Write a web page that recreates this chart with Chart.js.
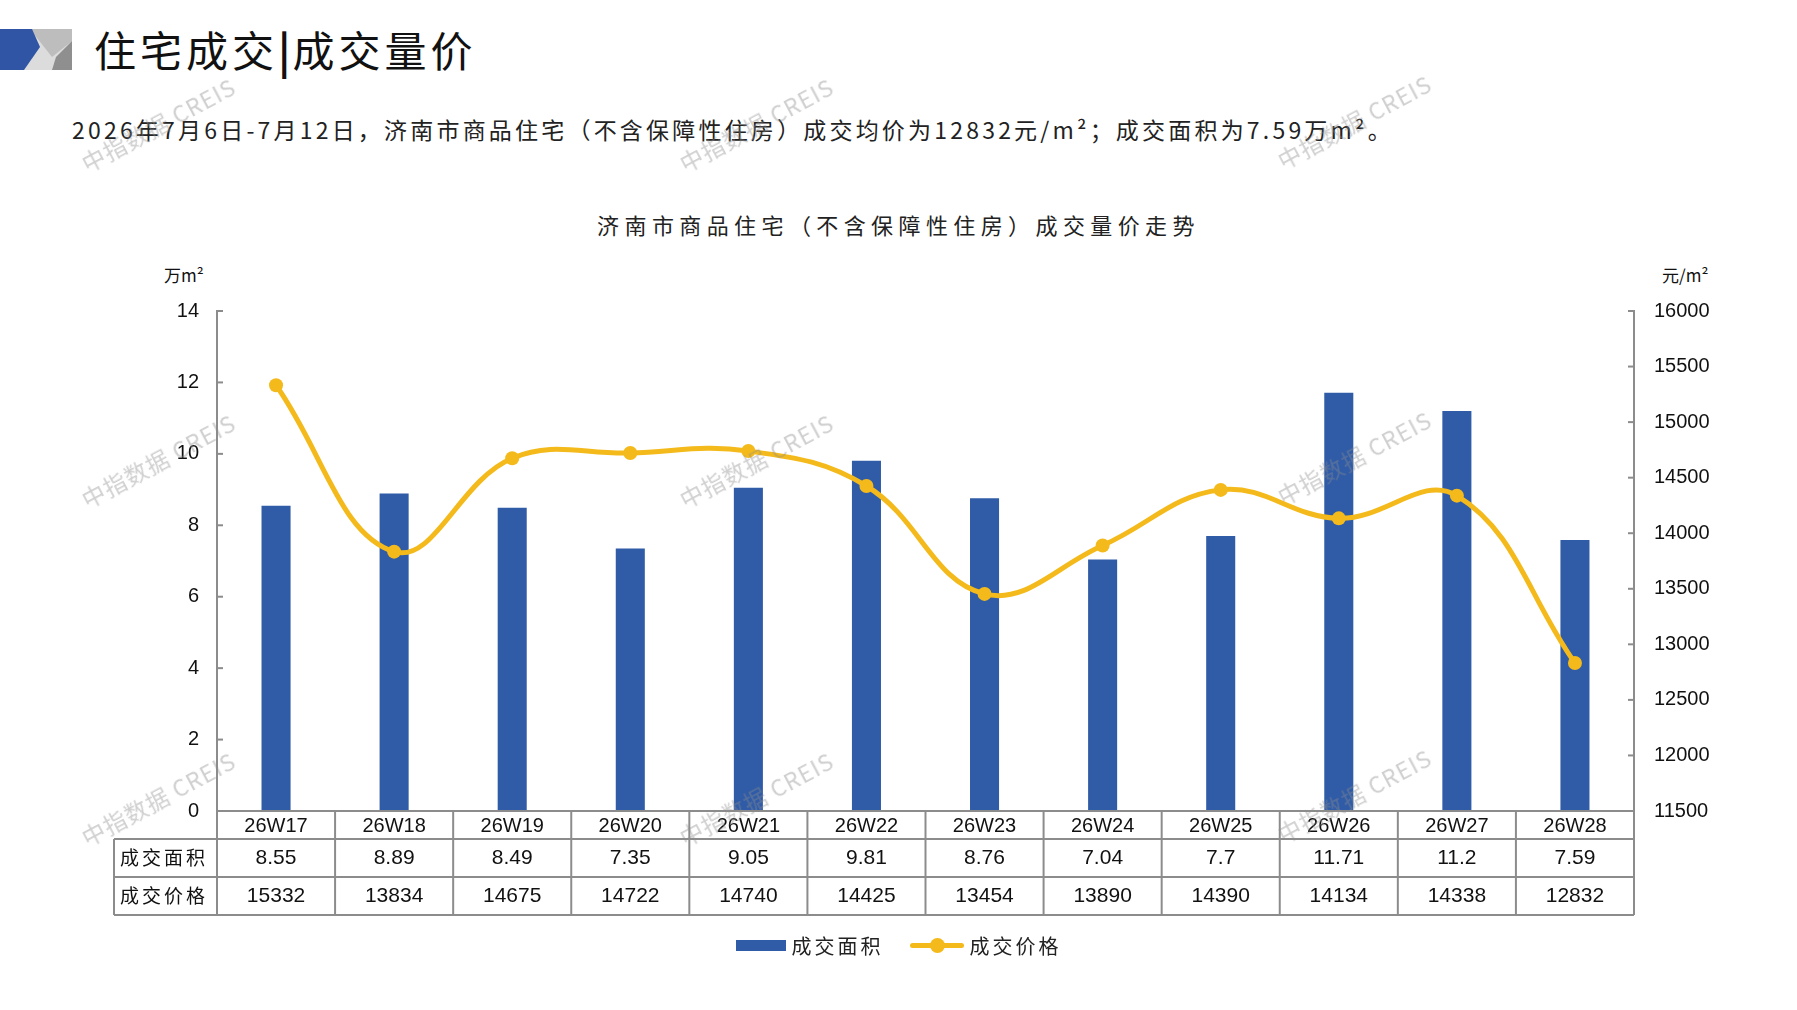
<!DOCTYPE html>
<html lang="zh-CN">
<head>
<meta charset="UTF-8">
<title>济南市商品住宅成交量价走势</title>
<script src="https://cdn.jsdelivr.net/npm/chart.js"></script>
<style>
  body { margin: 0; width: 1797px; height: 1010px; position: relative; overflow: hidden; background: #fff;
         font-family: "Noto Sans CJK SC", sans-serif; color: #111; }
  #wrap { position: absolute; left: 0; top: 0; width: 1797px; height: 1010px; }
  .logo { position: absolute; left: 0; top: 29px; }
  .head { position: absolute; left: 94px; top: 20px; font-size: 42px; line-height: 58px; letter-spacing: 4px; }
  .head b { font-weight: 700; letter-spacing: 2px; }
  .sub { position: absolute; left: 72px; top: 112px; font-size: 23px; line-height: 34px; letter-spacing: 3.2px; color: #222; }
  .ctitle { position: absolute; left: 0; width: 1797px; top: 208px; text-align: center; font-size: 22px;
            line-height: 32px; letter-spacing: 5.4px; color: #222; }
  .unit { position: absolute; top: 263px; font-size: 17px; line-height: 24px; color: #111; }
  .legend { position: absolute; left: 0; width: 1797px; top: 931px; display: flex; justify-content: center;
            align-items: center; font-size: 20px; letter-spacing: 3px; color: #222; }
  .legend .box { width: 50px; height: 11px; background: #2F5BA7; margin-right: 6px; }
  .legend .ln { position: relative; width: 54px; height: 5px; background: #F4BA1B; margin: 0 6px 0 26px; border-radius: 3px; }
  .legend .ln::after { content: ""; position: absolute; left: 20px; top: -5px; width: 15px; height: 15px;
                       border-radius: 50%; background: #F4BA1B; }
  .wm { position: absolute; transform: translate(-50%, -50%) rotate(-28deg); white-space: nowrap;
        font-size: 23px; color: rgba(140, 140, 140, 0.42); pointer-events: none; letter-spacing: 1px; }
</style>
</head>
<body>

<svg class="logo" width="72" height="41" viewBox="0 0 72 41">
  <rect x="0" y="0" width="72" height="41" fill="#dcdcdc"/>
  <polygon points="30,0 72,0 72,12 52,28" fill="#bdbdbd"/>
  <polygon points="72,12 72,41 52,41 56,28" fill="#8f8f8f"/>
  <polygon points="0,0 32,0 40,18 24,41 0,41" fill="#2F55A4"/>
</svg>
<div class="head">住宅成交<b>|</b>成交量价</div>
<div class="sub">2026年7月6日-7月12日，济南市商品住宅（不含保障性住房）成交均价为12832元/m²；成交面积为7.59万m²。</div>
<div class="ctitle">济南市商品住宅（不含保障性住房）成交量价走势</div>
<div class="unit" style="left:164px">万m²</div>
<div class="unit" style="left:1662px">元/m²</div>

<div id="wrap"><canvas id="volPriceChart"></canvas></div>

<div class="legend">
  <span class="box"></span><span>成交面积</span>
  <span class="ln"></span><span>成交价格</span>
</div>

<div class="wm" style="left:158px; top:124px">中指数据 CREIS</div>
<div class="wm" style="left:756px; top:124px">中指数据 CREIS</div>
<div class="wm" style="left:1354px; top:121px">中指数据 CREIS</div>
<div class="wm" style="left:158px; top:460px">中指数据 CREIS</div>
<div class="wm" style="left:756px; top:460px">中指数据 CREIS</div>
<div class="wm" style="left:1354px; top:457px">中指数据 CREIS</div>
<div class="wm" style="left:158px; top:798px">中指数据 CREIS</div>
<div class="wm" style="left:756px; top:798px">中指数据 CREIS</div>
<div class="wm" style="left:1354px; top:795px">中指数据 CREIS</div>

<script>
    // weekly data, 济南 商品住宅
    var weeks = ['26W17', '26W18', '26W19', '26W20', '26W21', '26W22',
                 '26W23', '26W24', '26W25', '26W26', '26W27', '26W28'];
    var areaValues = [8.55, 8.89, 8.49, 7.35, 9.05, 9.81, 8.76, 7.04, 7.7, 11.71, 11.2, 7.59];     // 万m²
    var priceValues = [15332, 13834, 14675, 14722, 14740, 14425, 13454, 13890, 14390, 14134, 14338, 12832]; // 元/m²
    var rowNames = ['成交面积', '成交价格'];

    var axisGray = '#8c8c8c';
    var numFont = '"Liberation Sans", Arial, sans-serif';

    // draws the inner tick marks and the data table under the plot
    var tablePlugin = {
        id: 'dataTable',
        afterDraw: function(chart) {
            var ctx = chart.ctx;
            var a = chart.chartArea;
            var x = chart.scales.x, y = chart.scales.y, y1 = chart.scales.y1;

            function line(x0, y0, x2, y2) {
                ctx.beginPath();
                ctx.moveTo(x0, y0);
                ctx.lineTo(x2, y2);
                ctx.stroke();
            }

            ctx.save();
            ctx.strokeStyle = axisGray;
            ctx.lineWidth = 2;

            y.ticks.forEach(function(t) {
                var py = y.getPixelForValue(t.value);
                line(a.left, py, a.left + 6, py);
            });
            y1.ticks.forEach(function(t) {
                var py = y1.getPixelForValue(t.value);
                line(a.right - 6, py, a.right, py);
            });

            var top = a.bottom;
            var r1 = top + 28, r2 = r1 + 38, r3 = r2 + 38;
            var tableLeft = 114;
            var step = x.getPixelForValue(1) - x.getPixelForValue(0);

            line(a.left, top, a.right, top);
            line(tableLeft, r1, a.right, r1);
            line(tableLeft, r2, a.right, r2);
            line(tableLeft, r3, a.right, r3);
            line(tableLeft, r1, tableLeft, r3);
            for (var i = 0; i <= weeks.length; i++) {
                var bx = x.getPixelForValue(i) - step / 2;
                line(bx, top, bx, r3);
            }

            ctx.fillStyle = '#111';
            ctx.textAlign = 'center';
            ctx.textBaseline = 'middle';
            for (var j = 0; j < weeks.length; j++) {
                var cx = x.getPixelForValue(j);
                ctx.font = '20px "Liberation Sans Narrow", ' + numFont;
                ctx.fillText(weeks[j], cx, (top + r1) / 2 + 1);
                ctx.font = '21px ' + numFont;
                ctx.fillText(String(areaValues[j]), cx, (r1 + r2) / 2);
                ctx.fillText(String(priceValues[j]), cx, (r2 + r3) / 2);
            }

            ctx.font = '19px "Noto Sans CJK SC", sans-serif';
            ctx.textAlign = 'left';
            if ('letterSpacing' in ctx) ctx.letterSpacing = '3px';
            ctx.fillText(rowNames[0], tableLeft + 6, (r1 + r2) / 2);
            ctx.fillText(rowNames[1], tableLeft + 6, (r2 + r3) / 2);
            ctx.restore();
        }
    };

    var ctx = document.getElementById('volPriceChart').getContext('2d');
    var volPriceChart = new Chart(ctx, {
        data: {
            labels: weeks,
            datasets: [{
                type: 'line',
                label: '成交价格',
                data: priceValues,
                yAxisID: 'y1',
                borderColor: '#F4BA1B',
                backgroundColor: '#F4BA1B',
                borderWidth: 5,
                tension: 0.4,
                pointRadius: 7,
                pointHoverRadius: 7,
                pointBorderWidth: 0,
                order: 0
            }, {
                type: 'bar',
                label: '成交面积',
                data: areaValues,
                yAxisID: 'y',
                backgroundColor: '#2F5BA7',
                categoryPercentage: 1,
                barPercentage: 0.246,
                order: 1
            }]
        },
        options: {
            responsive: true,
            maintainAspectRatio: false,
            animation: false,
            layout: { padding: { top: 311, bottom: 199, left: 0, right: 0 } },
            plugins: {
                legend: { display: false },
                title: { display: false },
                tooltip: { enabled: false }
            },
            scales: {
                x: {
                    offset: true,
                    grid: { display: false },
                    border: { display: false },
                    ticks: { display: false },
                    afterFit: function(scale) { scale.height = 0; }
                },
                y: {
                    position: 'left',
                    min: 0,
                    max: 14,
                    ticks: { stepSize: 2, padding: 18, color: '#111', font: { family: numFont, size: 20 } },
                    grid: { display: false, drawTicks: false },
                    border: { color: axisGray, width: 2 },
                    afterFit: function(scale) { scale.width = 217; }
                },
                y1: {
                    position: 'right',
                    min: 11500,
                    max: 16000,
                    ticks: {
                        stepSize: 500, padding: 20, color: '#111', font: { family: numFont, size: 20 },
                        callback: function(value) { return String(value); }
                    },
                    grid: { display: false, drawTicks: false },
                    border: { color: axisGray, width: 2 },
                    afterFit: function(scale) { scale.width = 163; }
                }
            }
        },
        plugins: [tablePlugin]
    });
</script>

</body>
</html>
